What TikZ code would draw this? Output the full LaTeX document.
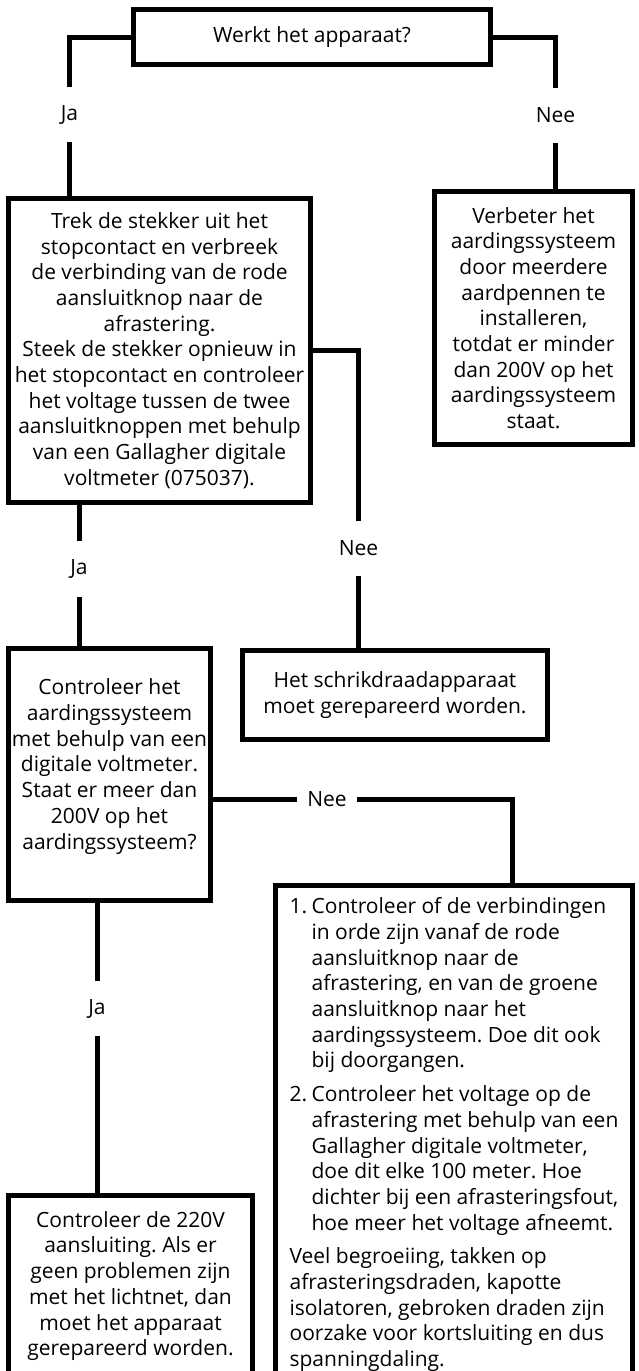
\documentclass[tikz,border=0pt]{standalone}
\usepackage{fontspec}
\setmainfont{Open Sans}
\usepackage{array}
\frenchspacing
\newcommand\boxfont{\fontsize{21}{25.7}\selectfont}

\begin{document}
\begin{tikzpicture}[x=1pt,y=-1pt,
    box/.style={draw,line width=5pt,inner sep=0pt,align=center,font=\boxfont},
    vlabel/.style={font=\boxfont,inner sep=0pt,minimum height=55pt},
    hlabel/.style={font=\boxfont,inner sep=0pt,minimum width=60pt},
    link/.style={line width=5pt}]
    \useasboundingbox (0,0) rectangle (639,1371);
    \clip (0,0) rectangle (639,1371);
    % Question at the top
    \node[box,minimum width=357pt,minimum height=55pt] (werkt) at (312,37) {Werkt het apparaat?};
    \node[vlabel] (ja1) at (69.5,114.5) {Ja};
    \node[vlabel] (nee1) at (555.5,115.5) {Nee};
    % Left branch
    \node[box,minimum width=302pt,minimum height=304pt] (stekker) at (159.5,350.5)
        {Trek de stekker uit het\\stopcontact en verbreek\\de verbinding van de rode\\aansluitknop naar de\\afrastering.\\Steek de stekker opnieuw in\\het stopcontact en controleer\\het voltage tussen de twee\\aansluitknoppen met behulp\\van een Gallagher digitale\\voltmeter (075037).};
    % Right branch
    \node[box,minimum width=198pt,minimum height=253pt] (verbeter) at (533.5,318)
        {Verbeter het\\aardingssysteem\\door meerdere\\aardpennen te\\installeren,\\totdat er minder\\dan 200V op het\\aardingssysteem\\staat.};
    \node[vlabel] (nee2) at (358.5,548.5) {Nee};
    \node[vlabel] (ja2) at (79,569) {Ja};
    \node[box,minimum width=305pt,minimum height=89pt] (schrik) at (395,695)
        {Het schrikdraadapparaat\\moet gerepareerd worden.};
    % Earthing check
    \node[box,minimum width=202pt,minimum height=252pt,text depth=21pt] (aarding) at (109.5,774.5)
        {Controleer het\\aardingssysteem\\met behulp van een\\digitale voltmeter.\\Staat er meer dan\\200V op het\\aardingssysteem?};
    \node[hlabel] (nee3) at (327,799.5) {Nee};
    \coordinate (knik) at (512.5,799.5);
    \node[vlabel] (ja3) at (97,1008.5) {Ja};
    \node[box,align=left,minimum width=357pt,minimum height=499pt] (afraster) at (454,1135)
        {\begin{tabular}{@{}p{22pt}@{}l@{}}
        1. & Controleer of de verbindingen\\
           & in orde zijn vanaf de rode\\
           & aansluitknop naar de\\
           & afrastering, en van de groene\\
           & aansluitknop naar het\\
           & aardingssysteem. Doe dit ook\\
           & bij doorgangen.\\[8pt]
        2. & Controleer het voltage op de\\
           & afrastering met behulp van een\\
           & Gallagher digitale voltmeter,\\
           & doe dit elke 100 meter. Hoe\\
           & dichter bij een afrasteringsfout,\\
           & hoe meer het voltage afneemt.\\[8pt]
        \multicolumn{2}{@{}l@{}}{Veel begroeiing, takken op}\\
        \multicolumn{2}{@{}l@{}}{afrasteringsdraden, kapotte}\\
        \multicolumn{2}{@{}l@{}}{isolatoren, gebroken draden zijn}\\
        \multicolumn{2}{@{}l@{}}{oorzake voor kortsluiting en dus}\\
        \multicolumn{2}{@{}l@{}}{spanningdaling.}
        \end{tabular}};
    \node[box,minimum width=244pt,minimum height=181pt] (lichtnet) at (130.5,1286)
        {Controleer de 220V\\aansluiting. Als er\\geen problemen zijn\\met het lichtnet, dan\\moet het apparaat\\gerepareerd worden.};
    % Connectors
    \draw[link] (werkt.west) -| (ja1.north);
    \draw[link] (ja1.south) -- (ja1.south |- stekker.north);
    \draw[link] (werkt.east) -| (nee1.north);
    \draw[link] (nee1.south) -- (nee1.south |- verbeter.north);
    \draw[link] (stekker.east) -| (nee2.north);
    \draw[link] (nee2.south) -- (nee2.south |- schrik.north);
    \draw[link] (ja2.north |- stekker.south) -- (ja2.north);
    \draw[link] (ja2.south) -- (ja2.south |- aarding.north);
    \draw[link] (aarding.east |- nee3) -- (nee3.west);
    \draw[link] (nee3.east) -- (knik) -- (knik |- afraster.north);
    \draw[link] (ja3.north |- aarding.south) -- (ja3.north);
    \draw[link] (ja3.south) -- (ja3.south |- lichtnet.north);
\end{tikzpicture}
\end{document}
